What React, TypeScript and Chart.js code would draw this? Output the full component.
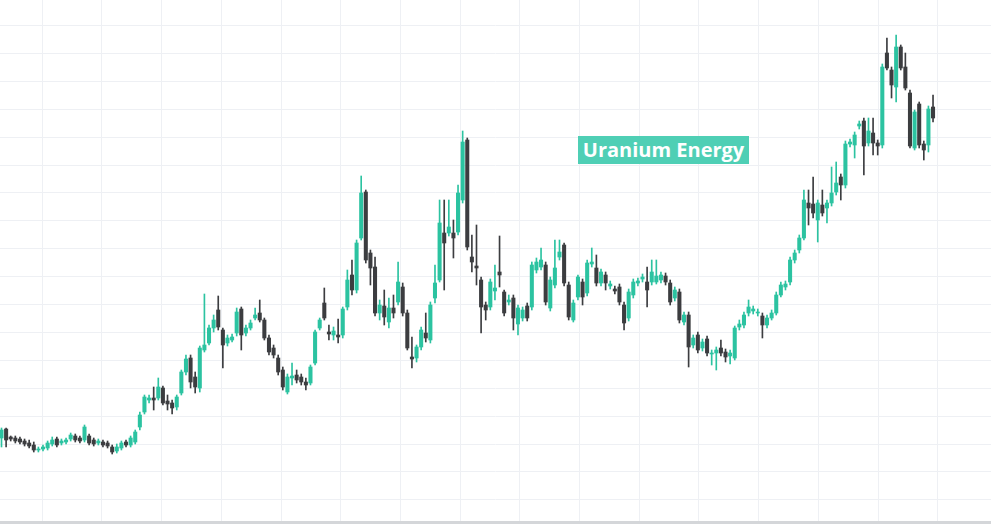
import React, { useEffect, useRef } from "react";
import { Chart, registerables } from "chart.js";

Chart.register(...registerables);

// Daily candles (price, USD)
const OPEN = [
  0.86, 0.95, 0.87, 0.86, 0.85, 0.83, 0.81, 0.79, 0.74, 0.75,
  0.76, 0.80, 0.85, 0.81, 0.82, 0.85, 0.88, 0.86, 0.84, 0.88,
  0.84, 0.81, 0.82, 0.81, 0.77, 0.73, 0.76, 0.82, 0.79, 0.82,
  0.97, 1.12, 1.24, 1.26, 1.26, 1.36, 1.23, 1.21, 1.17, 1.31, 1.52,
  1.66, 1.47, 1.36, 1.74, 1.81, 1.96, 2.14, 1.94, 1.81, 1.84,
  1.91, 2.15, 1.91, 1.96, 2.06, 2.11, 2.04, 1.86, 1.76, 1.66,
  1.54, 1.32, 1.46, 1.49, 1.47, 1.42, 1.41, 1.61, 1.96, 2.21,
  1.92, 1.89, 1.89, 1.89, 2.17, 2.49, 2.34, 2.86, 3.32, 2.71,
  2.57, 2.11, 2.18, 2.02, 2.16, 2.22, 2.37, 2.11, 1.67, 1.66,
  1.77, 1.91, 1.84, 2.26, 2.44, 2.91, 2.91, 2.91, 2.92, 3.24,
  3.84, 2.67, 2.58, 2.44, 2.19, 2.17, 2.33, 2.52, 2.32, 2.22,
  2.26, 2.00, 2.06, 2.18, 2.17, 2.54, 2.57, 2.59, 2.16, 2.39,
  2.67, 2.79, 2.39, 2.04, 2.27, 2.42, 2.31, 2.60, 2.56, 2.41,
  2.49, 2.38, 2.35, 2.37, 2.19, 2.06, 2.29, 2.41, 2.45, 2.42,
  2.42, 2.42, 2.44, 2.48, 2.41, 2.26, 2.32, 2.02, 2.09, 1.79,
  1.89, 1.76, 1.85, 1.70, 1.71, 1.76, 1.72, 1.68, 1.66, 1.97,
  1.99, 2.11, 2.13, 2.11, 2.08, 1.99, 2.06, 2.11, 2.29, 2.37,
  2.42, 2.64, 2.74, 2.86, 3.21, 3.20, 3.04, 3.19, 3.16, 3.21,
  3.32, 3.47, 3.39, 3.80, 3.79, 3.98, 4.03, 3.81, 3.91, 3.81,
  3.79, 4.71, 4.54, 4.37, 4.77, 4.57, 4.31, 3.76, 4.20, 3.80,
  3.79, 4.17,
];

const HIGH = [
  0.96, 0.96, 0.88, 0.88, 0.87, 0.85, 0.84, 0.82, 0.77, 0.79,
  0.83, 0.87, 0.87, 0.85, 0.86, 0.91, 0.90, 0.88, 0.99, 0.90,
  0.86, 0.85, 0.84, 0.83, 0.79, 0.80, 0.83, 0.84, 0.88, 0.94,
  1.12, 1.29, 1.29, 1.37, 1.46, 1.38, 1.29, 1.24, 1.29, 1.54, 1.69,
  1.69, 1.52, 1.78, 2.30, 1.99, 2.09, 2.28, 1.96, 1.89, 1.90,
  2.16, 2.17, 1.99, 2.04, 2.16, 2.24, 2.06, 1.89, 1.79, 1.69,
  1.57, 1.50, 1.61, 1.54, 1.50, 1.46, 1.59, 1.94, 2.06, 2.36,
  1.99, 1.97, 2.05, 2.17, 2.54, 2.64, 2.84, 3.48, 3.34, 2.74,
  2.67, 2.24, 2.34, 2.26, 2.29, 2.62, 2.41, 2.14, 1.87, 1.79,
  1.97, 2.11, 2.22, 2.59, 3.24, 3.24, 3.24, 3.04, 3.39, 3.93,
  3.86, 2.89, 2.99, 2.47, 2.22, 2.45, 2.59, 2.88, 2.34, 2.29,
  2.29, 2.19, 2.17, 2.21, 2.62, 2.66, 2.76, 2.62, 2.47, 2.84,
  2.84, 2.81, 2.42, 2.24, 2.49, 2.45, 2.64, 2.76, 2.69, 2.55,
  2.52, 2.43, 2.38, 2.40, 2.22, 2.35, 2.45, 2.46, 2.50, 2.57,
  2.64, 2.64, 2.52, 2.51, 2.44, 2.37, 2.35, 2.12, 2.12, 1.89,
  1.92, 1.85, 1.88, 1.74, 1.77, 1.84, 1.75, 1.74, 1.98, 2.04,
  2.12, 2.24, 2.18, 2.15, 2.11, 2.09, 2.14, 2.32, 2.42, 2.43,
  2.67, 2.74, 2.89, 3.34, 3.34, 3.47, 3.24, 3.34, 3.24, 3.57,
  3.62, 3.50, 3.83, 3.85, 3.92, 4.03, 4.06, 4.06, 4.06, 3.84,
  4.60, 4.86, 4.57, 4.89, 4.79, 4.71, 4.34, 4.14, 4.22, 3.83,
  4.18, 4.29,
];

const LOW = [
  0.77, 0.77, 0.83, 0.81, 0.80, 0.78, 0.76, 0.72, 0.72, 0.73,
  0.74, 0.78, 0.77, 0.79, 0.80, 0.83, 0.82, 0.81, 0.82, 0.79,
  0.78, 0.79, 0.77, 0.76, 0.70, 0.71, 0.74, 0.77, 0.77, 0.80,
  0.94, 1.10, 1.21, 1.14, 1.24, 1.19, 1.14, 1.10, 1.14, 1.29, 1.49,
  1.36, 1.31, 1.32, 1.72, 1.79, 1.92, 1.94, 1.56, 1.78, 1.82,
  1.88, 1.74, 1.88, 1.94, 2.04, 2.02, 1.84, 1.69, 1.66, 1.49,
  1.34, 1.30, 1.39, 1.41, 1.39, 1.34, 1.39, 1.59, 1.94, 2.04,
  1.84, 1.84, 1.81, 1.86, 2.14, 2.29, 2.31, 2.84, 2.61, 2.39,
  2.08, 2.04, 1.99, 1.96, 2.06, 2.19, 2.08, 1.74, 1.56, 1.62,
  1.74, 1.82, 1.81, 2.21, 2.42, 2.34, 2.88, 2.66, 2.89, 3.21,
  2.74, 2.52, 2.39, 1.91, 2.04, 2.14, 2.24, 2.37, 2.08, 2.19,
  1.94, 1.89, 2.03, 2.03, 2.14, 2.51, 2.54, 2.19, 2.13, 2.36,
  2.64, 2.38, 2.04, 2.02, 2.24, 2.19, 2.28, 2.57, 2.38, 2.38,
  2.34, 2.35, 2.30, 2.19, 1.94, 2.03, 2.26, 2.38, 2.42, 2.17,
  2.39, 2.40, 2.41, 2.39, 2.19, 2.23, 2.01, 1.99, 1.57, 1.76,
  1.71, 1.73, 1.68, 1.59, 1.54, 1.68, 1.62, 1.60, 1.64, 1.94,
  1.96, 2.08, 2.10, 2.08, 1.86, 1.96, 2.04, 2.09, 2.27, 2.34,
  2.39, 2.61, 2.71, 2.84, 2.99, 3.06, 2.82, 3.08, 3.01, 3.18,
  3.29, 3.24, 3.36, 3.77, 3.66, 3.95, 3.49, 3.78, 3.69, 3.69,
  3.76, 4.54, 4.26, 4.22, 4.54, 4.34, 3.76, 3.74, 3.76, 3.64,
  3.72, 4.02,
];

const CLOSE = [
  0.94, 0.84, 0.85, 0.83, 0.82, 0.80, 0.78, 0.74, 0.75, 0.77,
  0.81, 0.84, 0.79, 0.83, 0.84, 0.89, 0.84, 0.83, 0.97, 0.81,
  0.80, 0.83, 0.79, 0.78, 0.72, 0.77, 0.81, 0.79, 0.86, 0.92,
  1.09, 1.27, 1.26, 1.24, 1.37, 1.21, 1.20, 1.16, 1.27, 1.52, 1.65,
  1.42, 1.37, 1.76, 1.79, 1.96, 2.04, 1.97, 1.79, 1.86, 1.87,
  2.12, 1.89, 1.96, 2.01, 2.09, 2.04, 1.86, 1.72, 1.69, 1.52,
  1.37, 1.47, 1.48, 1.44, 1.42, 1.39, 1.57, 1.92, 2.04, 2.06,
  1.90, 1.93, 1.87, 2.15, 2.44, 2.34, 2.81, 3.31, 2.64, 2.56,
  2.11, 2.19, 2.07, 2.16, 2.11, 2.42, 2.11, 1.76, 1.65, 1.77,
  1.94, 1.86, 2.19, 2.41, 3.01, 2.81, 2.97, 2.86, 3.31, 3.82,
  2.77, 2.62, 2.56, 2.17, 2.14, 2.42, 2.36, 2.49, 2.11, 2.24,
  2.06, 2.16, 2.14, 2.06, 2.59, 2.62, 2.64, 2.22, 2.44, 2.56,
  2.72, 2.41, 2.07, 2.21, 2.47, 2.27, 2.61, 2.62, 2.41, 2.52,
  2.41, 2.40, 2.33, 2.22, 2.01, 2.32, 2.42, 2.43, 2.47, 2.34,
  2.52, 2.48, 2.49, 2.42, 2.22, 2.34, 2.04, 2.09, 1.77, 1.86,
  1.74, 1.82, 1.71, 1.71, 1.74, 1.71, 1.67, 1.71, 1.96, 2.00,
  2.09, 2.17, 2.15, 2.12, 1.99, 2.06, 2.11, 2.29, 2.39, 2.40,
  2.64, 2.71, 2.86, 3.24, 3.16, 3.11, 3.21, 3.11, 3.21, 3.31,
  3.41, 3.39, 3.80, 3.82, 3.89, 4.00, 3.78, 3.93, 3.81, 3.78,
  4.57, 4.56, 4.39, 4.77, 4.56, 4.36, 3.78, 4.12, 3.79, 3.74,
  4.15, 4.06,
];

const TITLE = "Uranium Energy";

const UP_COLOR = "#2cc3a1";
const DOWN_COLOR = "#3c3d40";
const GRID_COLOR = "#eef0f4";

// view window (candle index / price)
const X_MIN = -0.325;
const X_MAX = 214.57;
const Y_MIN = 0;
const Y_MAX = 5.24;

// grid lines
const GRID_X_START = 8.717;
const GRID_X_STEP = 12.946;
const GRID_X_COUNT = 16;
const GRID_Y_START = 0.247;
const GRID_Y_STEP = 0.279;
const GRID_Y_COUNT = 18;

const gridPlugin = {
  id: "bgGrid",
  beforeDatasetsDraw(chart: any) {
    const { ctx, chartArea, scales } = chart;
    ctx.save();
    ctx.strokeStyle = GRID_COLOR;
    ctx.lineWidth = 1;
    ctx.beginPath();
    for (let k = 0; k < GRID_X_COUNT; k++) {
      const px = Math.round(scales.x.getPixelForValue(GRID_X_START + k * GRID_X_STEP)) + 0.5;
      ctx.moveTo(px, chartArea.top);
      ctx.lineTo(px, chartArea.bottom);
    }
    for (let k = 0; k < GRID_Y_COUNT; k++) {
      const py = Math.round(scales.y.getPixelForValue(GRID_Y_START + k * GRID_Y_STEP)) + 0.5;
      ctx.moveTo(chartArea.left, py);
      ctx.lineTo(chartArea.right, py);
    }
    ctx.stroke();
    ctx.restore();
  },
};

export default function App() {
  const canvasRef = useRef<HTMLCanvasElement | null>(null);

  useEffect(() => {
    if (!canvasRef.current) return;
    const idx = OPEN.map((_, i) => i);
    const colors = idx.map((i) => (CLOSE[i] >= OPEN[i] ? UP_COLOR : DOWN_COLOR));
    const chart = new Chart(canvasRef.current, {
      type: "bar",
      data: {
        datasets: [
          {
            label: "wick",
            data: idx.map((i) => ({ x: i, y: [LOW[i], HIGH[i]] })) as any,
            backgroundColor: colors,
            barThickness: 1,
            grouped: false,
            borderWidth: 0,
          } as any,
          {
            label: "body",
            data: idx.map((i) => ({ x: i, y: [OPEN[i], CLOSE[i]] })) as any,
            backgroundColor: colors,
            barThickness: 3.4,
            minBarLength: 1,
            grouped: false,
            borderWidth: 0,
          } as any,
        ],
      },
      options: {
        responsive: false,
        animation: false,
        devicePixelRatio: 1,
        layout: { padding: 0 },
        plugins: {
          legend: { display: false },
          tooltip: { enabled: false },
          title: { display: false },
        },
        scales: {
          x: { type: "linear", display: false, min: X_MIN, max: X_MAX, offset: false },
          y: { type: "linear", display: false, min: Y_MIN, max: Y_MAX },
        },
      },
      plugins: [gridPlugin],
    });
    return () => chart.destroy();
  }, []);

  return (
    <div
      style={{
        position: "absolute",
        left: 0,
        top: 0,
        width: 991,
        height: 524,
        background: "#ffffff",
        overflow: "hidden",
      }}
    >
      <canvas ref={canvasRef} width={991} height={524} style={{ display: "block" }} />
      <div
        style={{
          position: "absolute",
          left: 578,
          top: 136,
          width: 171,
          height: 28,
          lineHeight: "28px",
          background: "#4fcfb5",
          color: "#ffffff",
          fontFamily: "'Open Sans', sans-serif",
          fontWeight: 700,
          fontSize: 20,
          textAlign: "center",
          whiteSpace: "nowrap",
        }}
      >
        {TITLE}
      </div>
      <div
        style={{
          position: "absolute",
          left: 0,
          top: 521,
          width: 991,
          height: 3,
          background: "#d4d6d9",
        }}
      />
    </div>
  );
}
